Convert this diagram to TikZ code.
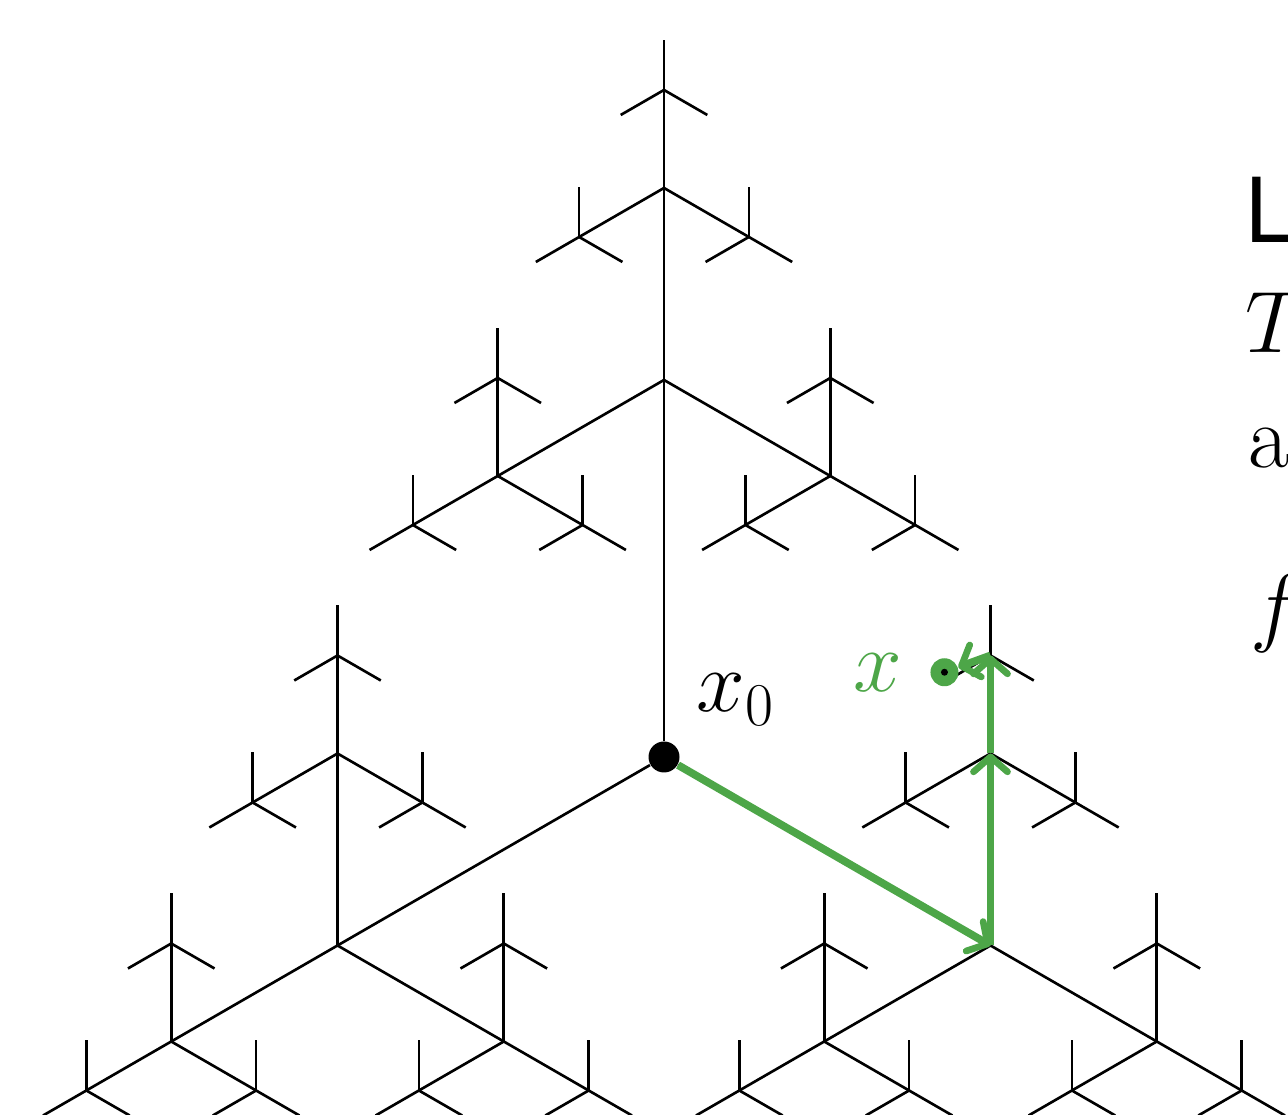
\documentclass[tikz,border=0pt]{standalone}
\usepackage{amsmath,amssymb}
\usepackage{fontspec}
\usetikzlibrary{arrows.meta,positioning}
\newfontfamily\headfont{TeX Gyre Heros}
\definecolor{walkgreen}{RGB}{77,166,72}
\tikzset{
  branch/.style={line width=0.75pt, draw=black},
  walk/.style={-{Straight Barb[length=1.5mm,width=3.4mm,line width=1.9pt,line cap=round,line join=round]},
               line width=2.2pt, draw=walkgreen},
  rootdot/.style={circle, fill=black, minimum size=3.1mm, inner sep=0pt},
  pointdot/.style={circle, fill=walkgreen, minimum size=2.8mm, inner sep=0pt},
  bigtext/.style={font=\fontsize{25.5}{30}\selectfont, inner sep=0pt, anchor=base west},
}

\begin{document}
\begin{tikzpicture}
\useasboundingbox (0,0) rectangle (12.88,11.15);
\clip (0,0) rectangle (12.88,11.15);

% ---------------- tree ----------------
\node[rootdot] (x0) at (6.64,3.58) {};
\foreach \a in {90,210,330} {
  \path (x0.center) ++(\a:3.77) coordinate (t\a);
  \draw[branch] (x0) -- (t\a);
  \foreach \b in {90,210,330} {
    \path (t\a) ++(\b:1.92) coordinate (t\a-\b);
    \draw[branch] (t\a) -- (t\a-\b);
    \foreach \c in {90,210,330} {
      \path (t\a-\b) ++(\c:0.98) coordinate (t\a-\b-\c);
      \draw[branch] (t\a-\b) -- (t\a-\b-\c);
      \foreach \d in {90,210,330} {
        \path (t\a-\b-\c) ++(\d:0.50) coordinate (t\a-\b-\c-\d);
        \draw[branch] (t\a-\b-\c) -- (t\a-\b-\c-\d);
      }
    }
  }
}
\node[bigtext] (x0lab) at (6.96,4.03) {$x_0$};

% ---------------- walk to x ----------------
\path (t330-90-90) ++(200:0.49) node[pointdot] (xp) {};
\draw[walk] (x0) -- (t330);
\draw[walk] (t330) -- (t330-90);
\draw[walk] (t330-90) -- (t330-90-90);
\draw[walk] (t330-90-90) -- (xp);
\fill[black] (xp) circle (0.035);
\node[bigtext, text=walkgreen] (xlab) at (8.53,4.23) {$x$};

% ---------------- text on the right ----------------
\node[bigtext] (line1) at (12.45,8.72) {\headfont L};
\node[bigtext] (line2) at (12.45,7.62) {$T$};
\node[bigtext] (line3) at (12.48,6.47) {a};
\node[bigtext] (line4) at (12.50,4.79) {$f$};
\end{tikzpicture}
\end{document}
